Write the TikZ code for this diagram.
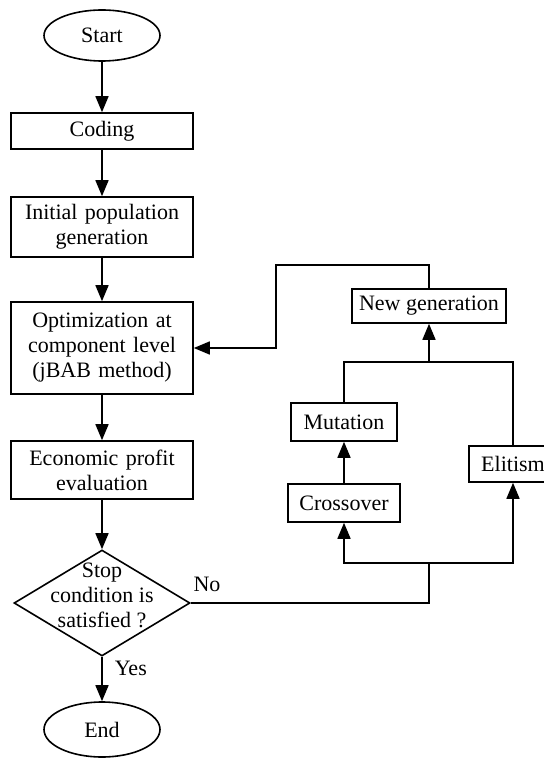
\documentclass[tikz,border=0pt]{standalone}
\usepackage{fontspec}
\setmainfont{Liberation Serif}
\usetikzlibrary{shapes.geometric,arrows.meta}

\begin{document}
\begin{tikzpicture}[
	node distance=48pt,
	text centered,
	font=\fontsize{11}{12.5}\selectfont,
	line width=0.8pt,
	term/.style={
		ellipse,
		draw,
		minimum width=58pt,
		inner sep=0pt
	},
	proc/.style={
		rectangle,
		draw,
		text width=88pt,
		minimum width=91pt,
		inner sep=1pt
	},
	op/.style={
		rectangle,
		draw,
		minimum height=19pt,
		inner sep=2pt
	},
	lbl/.style={
		inner sep=1pt
	},
	arr/.style={
		-{Triangle[length=8pt,width=6.5pt]}
	}
	]
	\useasboundingbox (0,0) rectangle (272pt,-379pt);

	\node [term, minimum height=25.5pt] (Start) at (51pt,-17.75pt) {Start};
	\node [proc, below of=Start, node distance=47.75pt, minimum height=18pt] (Coding) {Coding};
	\node [proc, below of=Coding, minimum height=30pt] (Init) {Initial population\\ generation};
	\node [proc, below of=Init, node distance=60.5pt, minimum height=46pt] (Opt) {Optimization at\\ component level\\ (jBAB method)};
	\node [proc, below of=Opt, node distance=61pt, minimum height=29pt] (Econ) {Economic profit\\ evaluation};
	\node [draw, diamond, minimum width=88pt, minimum height=53pt, inner sep=0pt, below of=Econ, node distance=66.5pt] (Stop) {};
	\node [align=center, inner sep=0pt, yshift=4pt] (StopText) at (Stop) {Stop\\ condition is\\ satisfied ?};
	\node [term, below of=Stop, node distance=63.25pt, minimum height=27.5pt] (End) {End};

	\node [op, right of=Opt, node distance=121pt, yshift=-37pt, minimum width=53pt] (Mutation) {Mutation};
	\node [op, below of=Mutation, node distance=40.5pt, minimum width=56pt] (Crossover) {Crossover};
	\node [op, right of=Mutation, node distance=84.5pt, yshift=-21pt, minimum width=44pt, minimum height=18pt] (Elitism) {Elitism};
	\node [op, above of=Mutation, node distance=58pt, xshift=42.5pt, minimum width=77pt, minimum height=17pt] (NewGen) {New generation};

	\coordinate (Join) at ([yshift=-19pt]NewGen.south);
	\coordinate [below of=Crossover, node distance=30pt] (Low);
	\coordinate (Split) at (Join |- Low);

	\draw [arr] (Start) -- (Coding);
	\draw [arr] (Coding) -- (Init);
	\draw [arr] (Init) -- (Opt);
	\draw [arr] (Opt) -- (Econ);
	\draw [arr] (Econ) -- (Stop);
	\draw [arr] (Stop) -- (End);

	\draw [arr] (NewGen.north) -- ++(0,11.5pt) -| ([xshift=41pt]Opt.east) -- (Opt.east);
	\draw (Mutation.north) |- (Join) -| (Elitism.north);
	\draw [arr] (Join) -- (NewGen.south);
	\draw [arr] (Crossover) -- (Mutation);
	\draw (Stop.east) -| (Split);
	\draw [arr] (Split) -| (Crossover.south);
	\draw [arr] (Split) -| (Elitism.south);

	\node [lbl, anchor=south west, yshift=4pt] (No) at (Stop.east) {No};
	\node [lbl, anchor=north west, xshift=5pt, yshift=-0.5pt] (Yes) at (Stop.south) {Yes};
\end{tikzpicture}
\end{document}
